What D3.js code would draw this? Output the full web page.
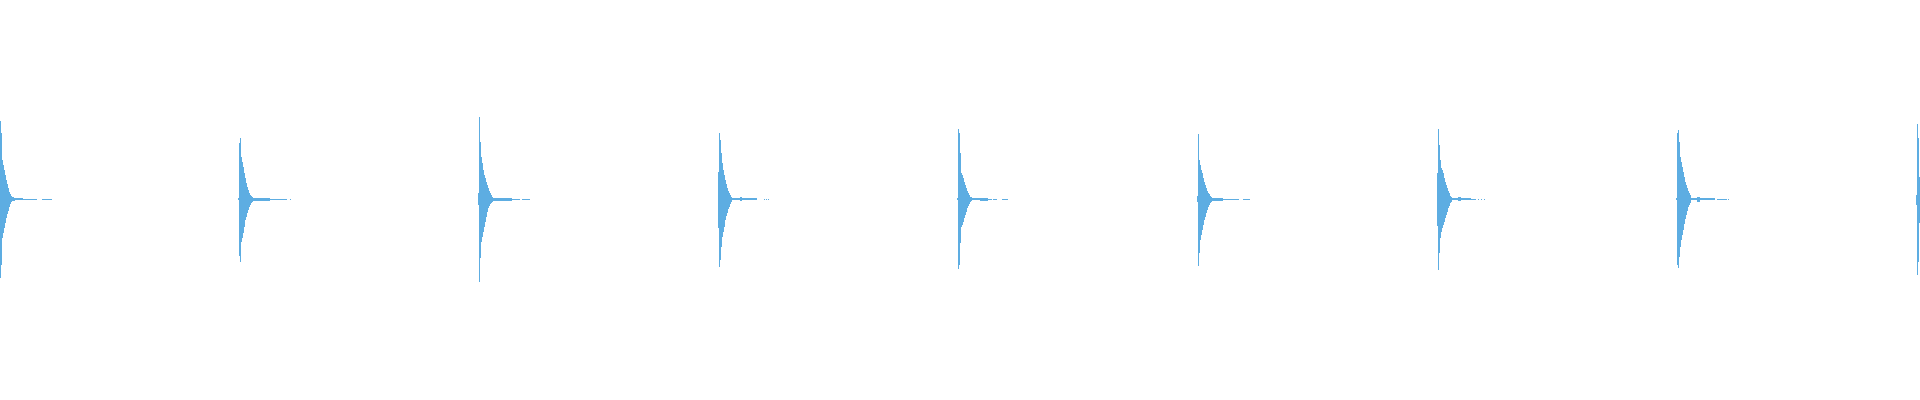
<!DOCTYPE html>
<html>
<head>
<meta charset="utf-8">
<script src="https://cdn.jsdelivr.net/npm/d3@7"></script>
<style>
html,body{margin:0;padding:0;background:#fff;overflow:hidden;}
svg{display:block;}
</style>
</head>
<body>
<svg id="chart" width="1920" height="400"></svg>
<script>
// Time bins (pixel columns of the waveform) where each drum hit starts
const hitStart = [0, 238, 478, 718, 957, 1197, 1437, 1676, 1916];

// Per-column positive peak (percent of full scale), starting at hitStart
const hitTop = [
  [78,66,39,34,29,24,19,15,11,7,5,3,2,2,1.5],
  [1,56,61,42,37,32,26,21,16,12,9,6,4,3,2],
  [6,82,57,42,36,29,24,21,17,14,11,8,6,4,2,1],
  [27,66,59,46,36,29,24,19,15,11,8,6,4,2],
  [1,70,66,46,26,24,21,17,14,11,8,6,4,2,2],
  [3,65,39,34,29,26,21,17,14,11,8,6,5,3,2],
  [26,70,54,39,31,29,26,21,17,14,11,8,6,3,2],
  [1,66,69,57,42,37,32,27,22,17,14,11,8,6,4],
  [4,75,61,22]
];

// Per-column negative peak (percent of full scale, magnitude)
const hitBottom = [
  [79,66,39,34,29,24,19,15,12,8,5,3,2,2,1.5],
  [1,57,63,43,39,34,28,21,18,14,11,8,6,4,3],
  [6,83,59,43,38,33,28,23,18,13,9,7,5,4,3,2],
  [29,68,61,48,38,33,28,21,17,14,10,8,5,3],
  [1,70,66,44,28,26,23,19,16,13,9,7,5,3,2],
  [3,67,54,41,36,31,26,21,18,14,11,8,6,4,3],
  [27,71,54,39,33,29,26,23,19,16,13,9,7,4,3],
  [1,66,69,58,48,41,36,31,25,20,16,12,8,6,4],
  [6,76,63,24]
];

// Decay tails: [fromOffset, toOffset, amplitude]
const hitTail = [
  [[15,23,1],[23,37,0.5],[42,52,0.5]],
  [[15,32,1.5],[32,49,0.5],[52,53,0.5]],
  [[16,34,1.5],[34,42,0.5],[44,52,0.5]],
  [[14,22,1],[22,24,2],[24,39,1],[46,47,0.5],[48,49,0.5],[50,51,0.5]],
  [[15,23,1],[23,31,1.5],[31,35,0.5],[36,40,0.5],[45,51,0.5]],
  [[15,26,1.5],[26,42,0.5],[46,53,0.5]],
  [[15,21,1],[21,24,2],[24,34,1],[34,39,0.5],[41,42,0.5],[44,45,0.5],[47,48,0.5]],
  [[15,21,1],[21,24,2.5],[24,39,1],[41,51,0.5],[52,53,0.5]],
  []
];

const color = "#5dade2";
const W = 1920, H = 400;

const x = d3.scaleLinear().domain([0, 1920]).range([0, W]);
const y = d3.scaleLinear().domain([-100, 100]).range([299, 99]);

// Build column records
const cols = [];
hitStart.forEach((s, i) => {
  hitTop[i].forEach((t, k) => {
    cols.push({t0: s + k, t1: s + k + 1, top: t, bot: hitBottom[i][k]});
  });
  hitTail[i].forEach(([a, b, amp]) => {
    cols.push({t0: s + a, t1: s + b, top: amp, bot: amp});
  });
});

const svg = d3.select("#chart");
svg.append("g")
  .attr("shape-rendering", "crispEdges")
  .selectAll("rect")
  .data(cols)
  .join("rect")
  .attr("x", d => x(d.t0))
  .attr("width", d => Math.max(1, x(d.t1) - x(d.t0)))
  .attr("y", d => y(d.top))
  .attr("height", d => Math.max(1, y(-d.bot) - y(d.top)))
  .attr("fill", color);
</script>
</body>
</html>
